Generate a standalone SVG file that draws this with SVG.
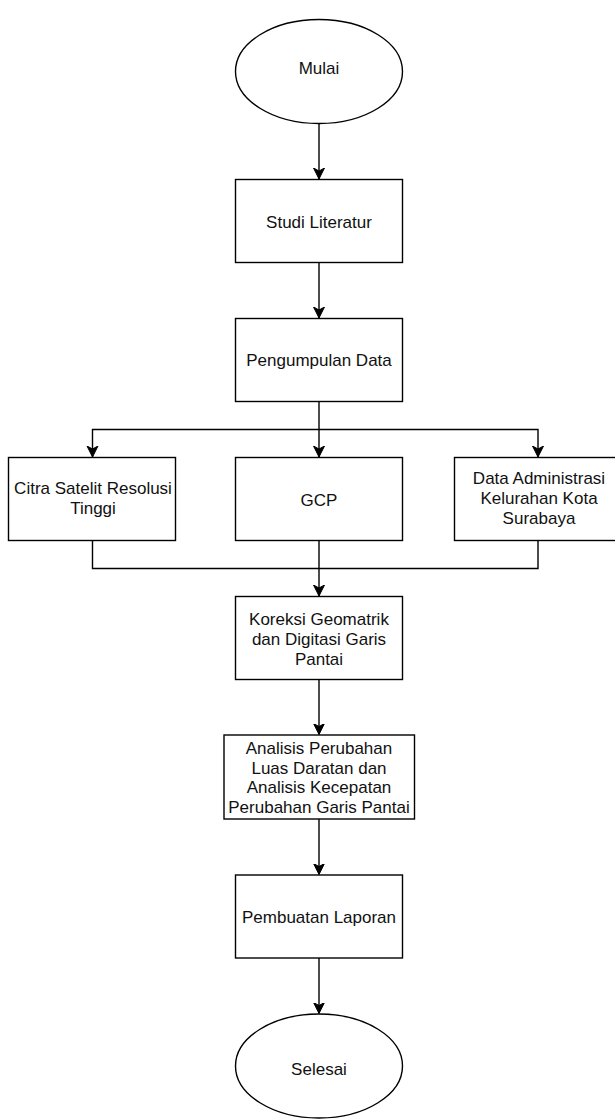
<svg xmlns="http://www.w3.org/2000/svg" width="615" height="1119" viewBox="0 0 615 1119">
<style>
.shape{fill:#fff;stroke:#000;stroke-width:1.4}
.edge{fill:none;stroke:#000;stroke-width:1.4}
text{font-family:"Liberation Sans",Arial,sans-serif;font-size:17px;fill:#111;text-anchor:middle}
</style>
<defs>
<marker id="arr" markerUnits="userSpaceOnUse" markerWidth="14" markerHeight="14" refX="11" refY="6" orient="auto">
<path d="M0,0.5 L11,6 L0,11.5 L3,6 z" fill="#000" stroke="#000" stroke-width="1"/>
</marker>
</defs>
<rect width="615" height="1119" fill="#fff"/>
<g id="connectors">
<path class="edge" d="M319,123.5 V179" marker-end="url(#arr)"/>
<path class="edge" d="M319,262.5 V318" marker-end="url(#arr)"/>
<path class="edge" d="M319,401.5 V457" marker-end="url(#arr)"/>
<path class="edge" d="M319,429.5 H92.5 V457" marker-end="url(#arr)"/>
<path class="edge" d="M319,429.5 H538 V457" marker-end="url(#arr)"/>
<path class="edge" d="M92.5,540.5 V568.5 H319"/>
<path class="edge" d="M538,540.5 V568.5 H319"/>
<path class="edge" d="M319,540.5 V596" marker-end="url(#arr)"/>
<path class="edge" d="M319,679.5 V734.5" marker-end="url(#arr)"/>
<path class="edge" d="M319,819 V874.5" marker-end="url(#arr)"/>
<path class="edge" d="M319,958 V1013.5" marker-end="url(#arr)"/>
</g>
<g id="mulai">
<ellipse class="shape" cx="319" cy="71.5" rx="83.5" ry="52"/>
<text x="319" y="74">Mulai</text>
</g>
<g id="studi">
<rect class="shape" x="235.5" y="179.5" width="167" height="83"/>
<text x="319" y="228">Studi Literatur</text>
</g>
<g id="pengumpulan">
<rect class="shape" x="235.5" y="318.5" width="167" height="83"/>
<text x="319" y="366">Pengumpulan Data</text>
</g>
<g id="citra">
<rect class="shape" x="8.5" y="457.5" width="167" height="83"/>
<text x="93" y="494">Citra Satelit Resolusi</text>
<text x="93" y="514">Tinggi</text>
</g>
<g id="gcp">
<rect class="shape" x="235.5" y="457.5" width="167" height="83"/>
<text x="319" y="506">GCP</text>
</g>
<g id="admin">
<rect class="shape" x="454.5" y="457.5" width="167" height="83"/>
<text x="539" y="484">Data Administrasi</text>
<text x="539" y="504">Kelurahan Kota</text>
<text x="539" y="524">Surabaya</text>
</g>
<g id="koreksi">
<rect class="shape" x="235.5" y="596.5" width="167" height="83"/>
<text x="319" y="625">Koreksi Geomatrik</text>
<text x="319" y="645">dan Digitasi Garis</text>
<text x="319" y="665">Pantai</text>
</g>
<g id="analisis">
<rect class="shape" x="224" y="735" width="190.5" height="84"/>
<text x="319" y="753.5">Analisis Perubahan</text>
<text x="319" y="773.5">Luas Daratan dan</text>
<text x="319" y="793">Analisis Kecepatan</text>
<text x="319" y="813">Perubahan Garis Pantai</text>
</g>
<g id="pembuatan">
<rect class="shape" x="235.5" y="875" width="167" height="83"/>
<text x="319" y="923">Pembuatan Laporan</text>
</g>
<g id="selesai">
<ellipse class="shape" cx="319" cy="1066" rx="83.5" ry="52"/>
<text x="319" y="1075">Selesai</text>
</g>
</svg>
